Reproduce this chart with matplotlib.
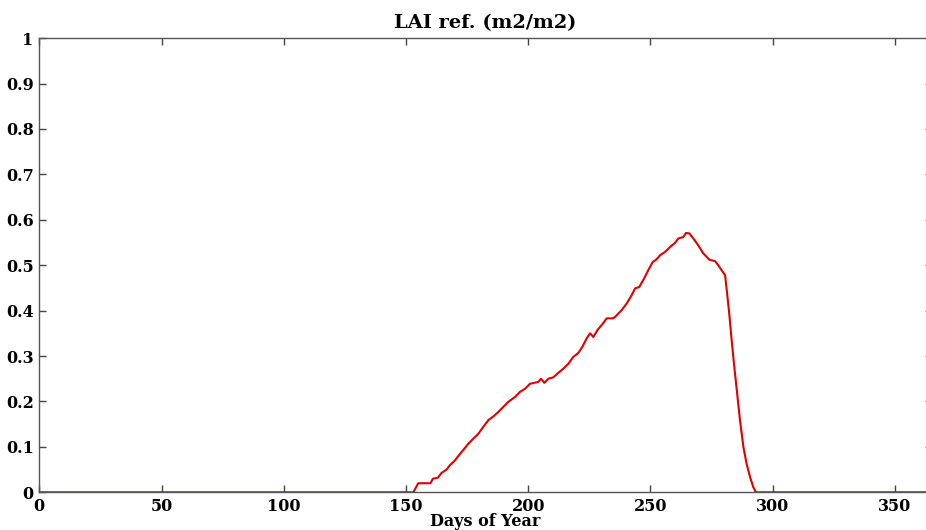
import numpy as np
import matplotlib
matplotlib.use('Agg')
import matplotlib.pyplot as plt

# LAI reference curve (day of year, m2/m2)
days = [0, 153, 155, 160, 161, 163, 164.6, 166.6, 168, 170, 171.4, 173.4, 175.5, 177.5,
        179.6, 181.6, 183.7, 185.7, 187.8, 189.8, 191.8, 194.6, 196.6, 198.7, 200.7,
        204.1, 205.2, 206.6, 208.2, 210.2, 212.3, 214.3, 216.4, 218.4, 220.5, 222.1,
        223.9, 225.3, 226.6, 228.4, 230.3, 232.1, 234.8, 236.2, 238.2, 240.3, 242.3,
        243.7, 245.4, 247.1, 249.1, 250.9, 252.5, 253.9, 255.9, 258, 260, 261.4, 263.4,
        264.5, 265.9, 267.5, 269.5, 271.6, 274.1, 276.4, 277.7, 279.1, 280.5, 281.2,
        282.2, 283.2, 284.2, 285.3, 286.6, 288, 289.3, 290.7, 292, 293.1, 365]
lai = [0, 0, 0.02, 0.02, 0.03, 0.032, 0.043, 0.05, 0.06, 0.07, 0.08, 0.093, 0.107, 0.118,
       0.129, 0.144, 0.159, 0.167, 0.177, 0.188, 0.199, 0.21, 0.221, 0.228, 0.239,
       0.243, 0.25, 0.241, 0.25, 0.253, 0.263, 0.272, 0.283, 0.298, 0.307, 0.32,
       0.339, 0.35, 0.342, 0.358, 0.37, 0.383, 0.383, 0.39, 0.401, 0.416, 0.434,
       0.449, 0.452, 0.468, 0.489, 0.507, 0.513, 0.522, 0.529, 0.54, 0.549, 0.559, 0.562,
       0.571, 0.57, 0.559, 0.544, 0.526, 0.512, 0.509, 0.5, 0.489, 0.478, 0.445,
       0.394, 0.335, 0.28, 0.225, 0.159, 0.1, 0.063, 0.034, 0.012, 0, 0]

xticks = list(range(0, 351, 50))
yticks = np.round(np.arange(0, 1.01, 0.1), 1)
ylabels = ['0'] + ['%.1f' % v for v in yticks[1:-1]] + ['1']

plt.rcParams['font.family'] = ['DejaVu Serif']
plt.rcParams['font.weight'] = 'bold'

fig = plt.figure(figsize=(9.26, 5.30), dpi=100)
ax = fig.add_axes([0.0424, 0.0711, 0.9637, 0.857])

ax.plot(days, lai, color='#e00000', lw=1.5, zorder=3)

ax.set_xlim(0, 365)
ax.set_ylim(0, 1)
ax.set_xticks(xticks)
ax.set_yticks(yticks)
ax.set_yticklabels(ylabels)
ax.tick_params(direction='in', length=5, width=1, top=True, right=True,
               labelsize=11.5, color='#444444', pad=4)
for lab in ax.get_xticklabels() + ax.get_yticklabels():
    lab.set_fontweight('bold')
for sp in ax.spines.values():
    sp.set_color('#555555')
    sp.set_linewidth(1)

ax.set_title('LAI ref. (m2/m2)', fontsize=14, fontweight='bold', pad=7)
ax.set_xlabel('Days of Year', fontsize=11.5, fontweight='bold', labelpad=-1)

fig.savefig('out.png', dpi=100)
